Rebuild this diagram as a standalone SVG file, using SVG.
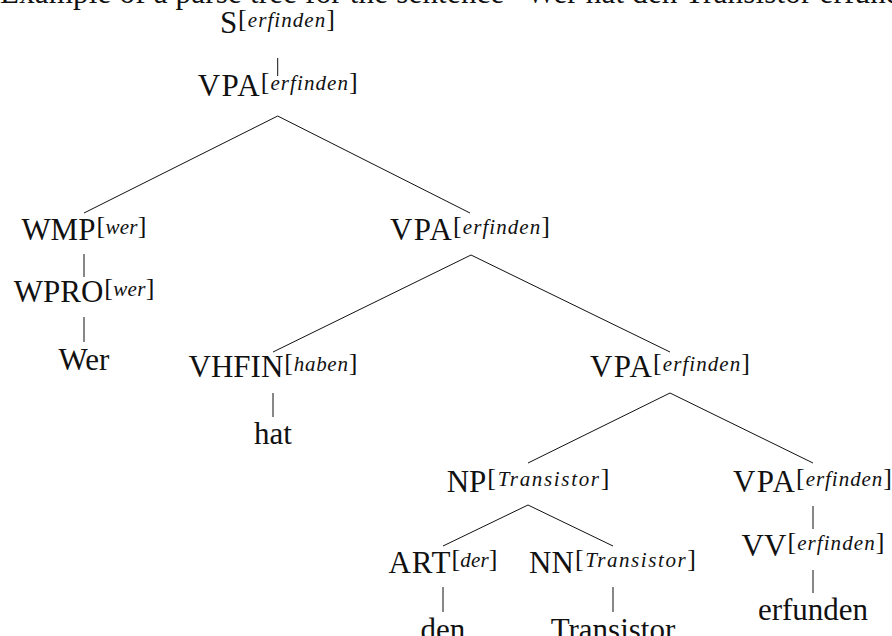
<svg xmlns="http://www.w3.org/2000/svg" width="892" height="636" viewBox="0 0 892 636" font-family="'Liberation Serif', 'Times New Roman', serif">
<style>
text { font-family: "Liberation Serif", "Times New Roman", serif; fill: #111; }
.m { font-family: "Liberation Serif", serif; font-size: 31px; }
.leaf { font-family: "Liberation Serif", serif; font-size: 31px; text-anchor: middle; }
.sup { font-family: "Liberation Serif", serif; font-size: 21px; font-style: italic; }
.br { font-size: 26px; font-style: normal; }
.title { font-family: "Liberation Serif", serif; font-size: 31px; }
#edges path { stroke: #111; stroke-width: 1; fill: none; }
</style>
<rect width="892" height="636" fill="#fff"/>
<text class="title" x="0" y="3" textLength="945" lengthAdjust="spacing">Example of a parse tree for the sentence “Wer hat den Transistor erfunden”</text>

<g id="edges">
<path d="M277.7 58 V76"/>
<path d="M277.7 116 L84 213 M277.7 116 L470 213"/>
<path d="M84 254 V277"/>
<path d="M84 317 V342"/>
<path d="M471 255 L273 352 M471 255 L670 352"/>
<path d="M273 393 V417"/>
<path d="M670 393 L528 463 M670 393 L813 463"/>
<path d="M528 505 L443 546 M528 505 L613 546"/>
<path d="M813 506 V529"/>
<path d="M813 570 V593"/>
<path d="M443 587 V612"/>
<path d="M613 587 V612"/>
</g>

<g id="n-S"><text class="m" x="220" y="33" textLength="17" lengthAdjust="spacing">S</text><text class="sup" x="238" y="27" textLength="97" lengthAdjust="spacing"><tspan class="br">[</tspan>erfinden<tspan class="br">]</tspan></text></g>
<g id="n-VPA1"><text class="m" x="197.7" y="96" textLength="62" lengthAdjust="spacing">VPA</text><text class="sup" x="260.7" y="90" textLength="97" lengthAdjust="spacing"><tspan class="br">[</tspan>erfinden<tspan class="br">]</tspan></text></g>
<g id="n-WMP"><text class="m" x="21.4" y="240" textLength="74" lengthAdjust="spacing">WMP</text><text class="sup" x="96.5" y="234" textLength="50" lengthAdjust="spacing"><tspan class="br">[</tspan>wer<tspan class="br">]</tspan></text></g>
<g id="n-VPA2"><text class="m" x="390" y="240" textLength="62" lengthAdjust="spacing">VPA</text><text class="sup" x="453" y="234" textLength="97" lengthAdjust="spacing"><tspan class="br">[</tspan>erfinden<tspan class="br">]</tspan></text></g>
<g id="n-WPRO"><text class="m" x="13.7" y="302" textLength="89.6" lengthAdjust="spacing">WPRO</text><text class="sup" x="104.3" y="296" textLength="50" lengthAdjust="spacing"><tspan class="br">[</tspan>wer<tspan class="br">]</tspan></text></g>
<g id="n-Wer"><text class="leaf" x="84" y="370">Wer</text></g>
<g id="n-VHFIN"><text class="m" x="188.6" y="377" textLength="94.7" lengthAdjust="spacing">VHFIN</text><text class="sup" x="284.3" y="371" textLength="73" lengthAdjust="spacing"><tspan class="br">[</tspan>haben<tspan class="br">]</tspan></text></g>
<g id="n-VPA3"><text class="m" x="590" y="377" textLength="62" lengthAdjust="spacing">VPA</text><text class="sup" x="653" y="371" textLength="97" lengthAdjust="spacing"><tspan class="br">[</tspan>erfinden<tspan class="br">]</tspan></text></g>
<g id="n-hat"><text class="leaf" x="273" y="444">hat</text></g>
<g id="n-NP"><text class="m" x="446.7" y="492" textLength="39.6" lengthAdjust="spacing">NP</text><text class="sup" x="487.3" y="486" textLength="122" lengthAdjust="spacing"><tspan class="br">[</tspan>Transistor<tspan class="br">]</tspan></text></g>
<g id="n-VPA4"><text class="m" x="733" y="492" textLength="62" lengthAdjust="spacing">VPA</text><text class="sup" x="796" y="486" textLength="96" lengthAdjust="spacing"><tspan class="br">[</tspan>erfinden<tspan class="br">]</tspan></text></g>
<g id="n-ART"><text class="m" x="388.5" y="573" textLength="62" lengthAdjust="spacing">ART</text><text class="sup" x="451.5" y="567" textLength="46" lengthAdjust="spacing"><tspan class="br">[</tspan>der<tspan class="br">]</tspan></text></g>
<g id="n-NN"><text class="m" x="529.1" y="573" textLength="44.8" lengthAdjust="spacing">NN</text><text class="sup" x="574.9" y="567" textLength="121" lengthAdjust="spacing"><tspan class="br">[</tspan>Transistor<tspan class="br">]</tspan></text></g>
<g id="n-VV"><text class="m" x="741.6" y="556" textLength="44.8" lengthAdjust="spacing">VV</text><text class="sup" x="787.4" y="550" textLength="97" lengthAdjust="spacing"><tspan class="br">[</tspan>erfinden<tspan class="br">]</tspan></text></g>
<g id="n-den"><text class="leaf" x="443" y="640">den</text></g>
<g id="n-Transistor"><text class="leaf" x="613" y="640">Transistor</text></g>
<g id="n-erfunden"><text class="leaf" x="813" y="620">erfunden</text></g>
</svg>
